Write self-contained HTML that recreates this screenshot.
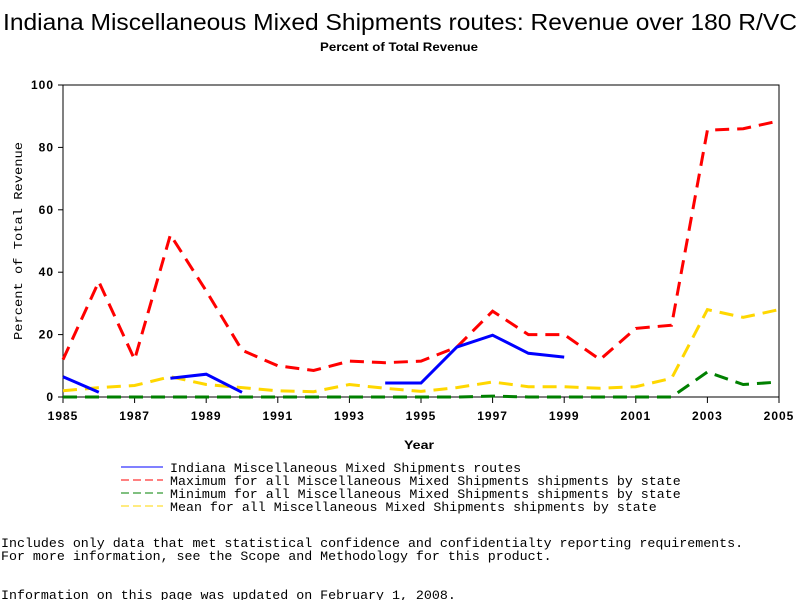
<!DOCTYPE html>
<html><head><meta charset="utf-8"><style>
body{margin:0;background:#fff;}
svg{display:block;}
.m{font-family:"Liberation Mono",monospace;font-size:13.3px;fill:#000;}
.b{font-family:"Liberation Sans",sans-serif;font-weight:bold;font-size:12px;fill:#000;letter-spacing:1px;}
</style></head><body>
<svg id="c" width="800" height="600" xmlns="http://www.w3.org/2000/svg">
<text x="3" y="30" textLength="794" lengthAdjust="spacingAndGlyphs" style="font-family:'Liberation Sans',sans-serif;font-size:23px">Indiana Miscellaneous Mixed Shipments routes: Revenue over 180 R/VC</text>
<text x="320" y="51" textLength="158" lengthAdjust="spacingAndGlyphs" class="b" style="letter-spacing:0">Percent of Total Revenue</text>
<rect x="63" y="85" width="716" height="312" fill="none" stroke="#000" stroke-width="1"/>
<g id="axes"></g>
<g id="series"></g>
<text x="404" y="449" textLength="30" lengthAdjust="spacingAndGlyphs" class="b" style="letter-spacing:0">Year</text>
<text transform="translate(22,340) rotate(-90)" textLength="198" lengthAdjust="spacingAndGlyphs" class="m" style="font-size:12px">Percent of Total Revenue</text>
<g>
<line x1="121" y1="467" x2="163" y2="467" stroke="#0000ff"/>
<text x="170" y="472" class="m">Indiana Miscellaneous Mixed Shipments routes</text>
<line x1="121" y1="480" x2="163" y2="480" stroke="#ff0000" stroke-dasharray="8,4"/>
<text x="170" y="485" class="m">Maximum for all Miscellaneous Mixed Shipments shipments by state</text>
<line x1="121" y1="493" x2="163" y2="493" stroke="#008000" stroke-dasharray="8,4"/>
<text x="170" y="498" class="m">Minimum for all Miscellaneous Mixed Shipments shipments by state</text>
<line x1="121" y1="506" x2="163" y2="506" stroke="#ffd700" stroke-dasharray="8,4"/>
<text x="170" y="511" class="m">Mean for all Miscellaneous Mixed Shipments shipments by state</text>
</g>
<text x="1" y="547" class="m">Includes only data that met statistical confidence and confidentialty reporting requirements.</text>
<text x="1" y="560" class="m">For more information, see the Scope and Methodology for this product.</text>
<text x="1" y="599" class="m">Information on this page was updated on February 1, 2008.</text>
</svg>
<script>
const years=[1985,1986,1987,1988,1989,1990,1991,1992,1993,1994,1995,1996,1997,1998,1999,2000,2001,2002,2003,2004,2005];
const maxVals=[12,37,12,52,34,15,10,8.5,11.5,11,11.5,16,27.5,20,20,12,22,23,85.5,86,88.5];
const meanVals=[2,3,3.7,6.5,4,3,2,1.7,4,2.8,1.8,3,4.8,3.3,3.3,2.8,3.3,6,28,25.5,28];
const minVals=[0,0,0,0,0,0,0,0,0,0,0,0,0.3,0,0,0,0,0,8,4,4.8];
const indianaVals=[6.5,1.5,null,6,7.3,1.5,null,null,null,4.5,4.5,16,19.8,14,12.8,null,null,null,null,null,null];
const yTicks=[0,20,40,60,80,100];
const xTicks=[1985,1987,1989,1991,1993,1995,1997,1999,2001,2003,2005];
const NS="http://www.w3.org/2000/svg";
const xS=y=>63+(y-1985)*716/20;
const yS=v=>397-v*3.12;
const axes=document.getElementById('axes'), ser=document.getElementById('series');
function mk(tag,attrs,parent){const e=document.createElementNS(NS,tag);for(const k in attrs)e.setAttribute(k,attrs[k]);parent.appendChild(e);return e;}
yTicks.forEach(t=>{
  const l=mk('line',{x1:58,x2:63,y1:yS(t),y2:yS(t),stroke:'#000'},axes);
  
  
  const tx=mk('text',{x:54,y:yS(t)+4,'text-anchor':'end',class:'b'},axes);tx.textContent=t;
  
  
});
xTicks.forEach(t=>{
  const l=mk('line',{x1:xS(t),x2:xS(t),y1:397,y2:403,stroke:'#000'},axes);
  
  
  const tx=mk('text',{x:xS(t),y:420,'text-anchor':'middle',class:'b'},axes);tx.textContent=t;
  
  
});
function draw(vals,color,dash,name){
  let segs=[],cur=[];
  vals.forEach((v,i)=>{if(v==null){if(cur.length)segs.push(cur);cur=[];}else cur.push(xS(years[i]).toFixed(1)+','+yS(v).toFixed(1));});
  if(cur.length)segs.push(cur);
  segs.forEach(s=>{
    const p=mk('polyline',{points:s.join(' '),fill:'none',stroke:color,'stroke-width':3,'stroke-dasharray':dash||'none'},ser);
    
    
  });
}
draw(minVals,'#008000','14,8','min-line');
draw(meanVals,'#ffd700','14,8','mean-line');
draw(maxVals,'#ff0000','14,8','max-line');
draw(indianaVals,'#0000ff',null,'indiana-line');
</script>
</body></html>
